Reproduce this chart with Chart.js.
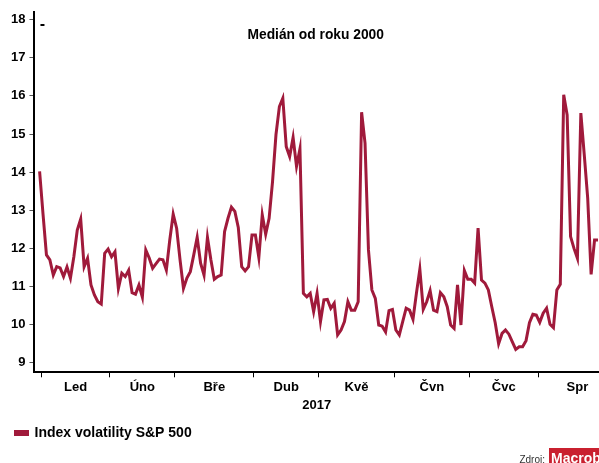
<!DOCTYPE html>
<html lang="cs">
	<head>
		<meta charset="UTF-8" />
		<title>Index volatility S&amp;P 500</title>
		<script src="https://cdn.jsdelivr.net/npm/chart.js@4"></script>
		<style>
			html, body { margin: 0; padding: 0; background: #fff; }
			#wrap { width: 599px; height: 463px; }
		</style>
	</head>
	<body>
		<div id="wrap"><canvas id="vix"></canvas></div>
		<script>
			// Měsíce na ose X a počet obchodních dní v každém z nich
			const months = ["Led", "Úno", "Bře", "Dub", "Kvě", "Čvn", "Čvc", "Spr"];
			const tradingDays = [20, 19, 23, 19, 22, 22, 20, 23];

			// Denní hodnoty indexu (první bod je poslední obchodní den roku 2016)
			const vix = [
				14.02, 12.9, 11.83, 11.7, 11.3, 11.52, 11.49, 11.26, 11.51, 11.22,
				11.78, 12.48, 12.77, 11.52, 11.74, 11.04, 10.78, 10.6, 10.54, 11.87,
				11.98, 11.78, 11.91, 10.95, 11.35, 11.26, 11.43, 10.84, 10.8, 11.04,
				10.72, 11.96, 11.75, 11.48, 11.6, 11.72, 11.7, 11.43, 12.22, 12.9,
				12.53, 11.7, 10.95, 11.22, 11.39, 11.83, 12.29, 11.61, 11.3, 12.29,
				11.7, 11.19, 11.26, 11.3, 12.44, 12.79, 13.08, 12.97, 12.55, 11.52,
				11.41, 11.52, 12.35, 12.35, 11.76, 12.88, 12.37, 12.79, 13.75, 14.98,
				15.72, 15.94, 14.67, 14.41, 14.91, 14.15, 14.61, 10.82, 10.73, 10.82,
				10.34, 10.82, 10.08, 10.65, 10.66, 10.43, 10.56, 9.73, 9.86, 10.08,
				10.6, 10.38, 10.38, 10.6, 15.57, 14.76, 11.96, 10.91, 10.69, 9.99,
				9.96, 9.81, 10.37, 10.4, 9.86, 9.73, 10.08, 10.43, 10.38, 10.14,
				10.82, 11.45, 10.4, 10.6, 10.89, 10.38, 10.34, 10.84, 10.73, 10.47,
				9.99, 9.9, 11.04, 9.99, 11.42, 11.19, 11.19, 11.09, 12.53, 11.17,
				11.09, 10.91, 10.47, 10.05, 9.5, 9.77, 9.86, 9.75, 9.55, 9.35,
				9.42, 9.42, 9.58, 10.05, 10.27, 10.25, 10.06, 10.3, 10.43, 10.01,
				9.92, 10.91, 11.06, 16.03, 15.5, 12.31, 12.0, 11.74, 15.55, 14.45,
				13.32, 11.32, 12.22, 12.22
			];

			const yTicks = [9, 10, 11, 12, 13, 14, 15, 16, 17, 18];

			// hranice měsíců (mezi body) a středy pro popisky
			const bounds = [0.5];
			tradingDays.forEach((d) => bounds.push(bounds[bounds.length - 1] + d));
			const monthMid = new Map();
			months.forEach((m, i) => monthMid.set((bounds[i] + bounds[i + 1]) / 2, m));
			const xTicks = bounds.slice(0, months.length).concat([...monthMid.keys()]).sort((a, b) => a - b);

			const points = vix.map((v, i) => ({ x: i, y: v }));

			const FONT = "'Liberation Sans', Arial, sans-serif";
			const lineColor = "#a01a3b";

			// nadpis v grafu + zdroj vpravo dole
			const extras = {
				id: "extras",
				afterDraw(chart) {
					const { ctx, chartArea } = chart;
					ctx.save();
					ctx.fillStyle = "#000";
					ctx.font = "bold 13.8px " + FONT;
					ctx.textAlign = "center";
					ctx.textBaseline = "middle";
					ctx.fillText("Medián od roku 2000", (chartArea.left + chartArea.right) / 2 - 1, chartArea.top + 23);
					ctx.fillRect(chartArea.left + 6, chartArea.top + 12, 4, 2);

					// Zdroj: Macrobond
					ctx.textAlign = "right";
					ctx.font = "10px " + FONT;
					ctx.fillStyle = "#333";
					ctx.fillText("Zdroj:", 545, 460);
					ctx.fillStyle = "#c9202f";
					ctx.fillRect(549, 448, 60, 20);
					ctx.fillStyle = "#fff";
					ctx.textAlign = "left";
					ctx.font = "bold 14px 'Liberation Sans Narrow', " + FONT;
					ctx.fillText("Macrobond", 551, 459);
					ctx.restore();
				},
			};

			new Chart(document.getElementById("vix"), {
				type: "line",
				data: {
					datasets: [
						{
							label: "Index volatility S&P 500",
							data: points,
							borderColor: lineColor,
							backgroundColor: lineColor,
							borderWidth: 3,
							pointRadius: 0,
							tension: 0,
						},
					],
				},
				options: {
					responsive: true,
					maintainAspectRatio: false,
					animation: false,
					layout: { padding: { left: 7, right: 0, top: 12, bottom: 13 } },
					scales: {
						x: {
							type: "linear",
							min: -1.5,
							max: 163.3,
							afterBuildTicks: (axis) => {
								axis.ticks = xTicks.map((v) => ({ value: v }));
							},
							ticks: {
								autoSkip: false,
								maxRotation: 0,
								padding: 2,
								color: "#000",
								font: { family: FONT, size: 13, weight: "bold" },
								callback: (v) => monthMid.get(v) || "",
							},
							grid: {
								drawOnChartArea: false,
								tickLength: 5,
								tickWidth: 1,
								tickColor: (ctx) => (ctx.tick && monthMid.has(ctx.tick.value) ? "rgba(0,0,0,0)" : "#000"),
							},
							border: { display: true, color: "#000", width: 2 },
							title: {
								display: true,
								text: "2017",
								color: "#000",
								padding: { top: 1, bottom: 4 },
								font: { family: FONT, size: 13, weight: "bold" },
							},
						},
						y: {
							min: 8.75,
							max: 18.2,
							afterBuildTicks: (axis) => {
								axis.ticks = yTicks.map((v) => ({ value: v }));
							},
							ticks: {
								padding: 4,
								color: "#000",
								font: { family: FONT, size: 13, weight: "bold" },
							},
							grid: {
								drawOnChartArea: false,
								tickLength: 5,
								tickColor: "#555",
							},
							border: { display: true, color: "#000", width: 2 },
						},
					},
					plugins: {
						title: { display: false },
						tooltip: { enabled: false },
						legend: {
							display: true,
							position: "bottom",
							align: "start",
							labels: {
								color: "#000",
								font: { family: FONT, size: 14, weight: "bold" },
								boxWidth: 12,
								boxHeight: 3,
								padding: 8.5,
							},
						},
					},
				},
				plugins: [extras],
			});
		</script>
	</body>
</html>
